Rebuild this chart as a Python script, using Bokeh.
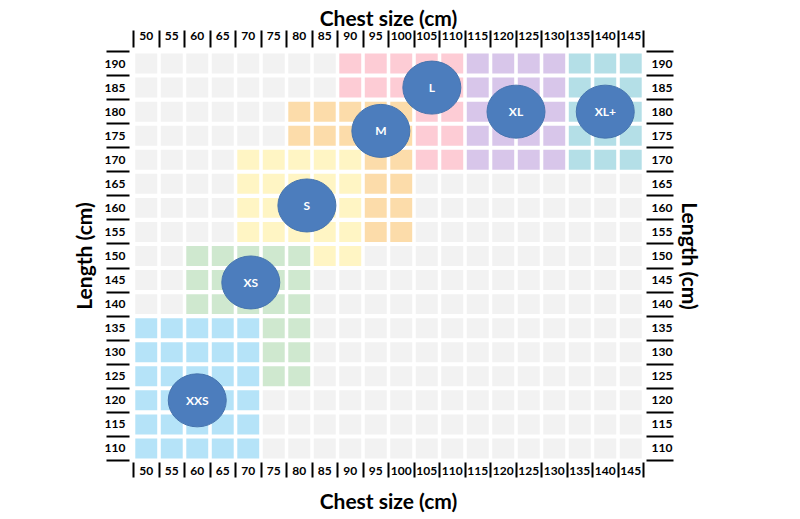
from bokeh.plotting import figure
from bokeh.models import FixedTicker, Range1d, LinearAxis, ColumnDataSource
from bokeh.core.properties import value
from bokeh.embed import file_html
from bokeh.resources import INLINE

# ---- data ----
chest = [50, 55, 60, 65, 70, 75, 80, 85, 90, 95, 100, 105, 110, 115, 120, 125, 130, 135, 140, 145]
length = [190, 185, 180, 175, 170, 165, 160, 155, 150, 145, 140, 135, 130, 125, 120, 115, 110]

# size region of each cell, one string per length row (columns follow `chest`)
size_rows = [
    "........LLLLLXXXXTTT",  # 190
    "........LLLLLXXXXTTT",  # 185
    "......MMMMMLLXXXXTTT",  # 180
    "......MMMMMLLXXXXTTT",  # 175
    "....SSSSSMMLLXXXXTTT",  # 170
    "....SSSSSMM.........",  # 165
    "....SSSSSMM.........",  # 160
    "....SSSSSMM.........",  # 155
    "..GGGGGSS...........",  # 150
    "..GGGGG.............",  # 145
    "..GGGGG.............",  # 140
    "AAAAAGG.............",  # 135
    "AAAAAGG.............",  # 130
    "AAAAAGG.............",  # 125
    "AAAAA...............",  # 120
    "AAAAA...............",  # 115
    "AAAAA...............",  # 110
]
size_codes = [".", "A", "G", "S", "M", "L", "X", "T"]
size_colors = ["#f2f2f2", "#b5e3f8", "#cfe8cf", "#fff5c4", "#fcdcaa", "#fdccd5", "#d8c6ea", "#b4dfe7"]

label_names = ["XXS", "XS", "S", "M", "L", "XL", "XL+"]
label_chest = [60, 70.5, 81.5, 96, 106, 122.5, 140]
label_length = [120, 144.5, 160.5, 176, 185, 180, 180]

# ---- build cells ----
color_of = dict(zip(size_codes, size_colors))
cx, cy, cc = [], [], []
for r, row in enumerate(size_rows):
    for c, code in enumerate(row):
        cx.append(chest[c])
        cy.append(length[r])
        cc.append(color_of[code])
cells = ColumnDataSource(dict(x=cx, y=cy, color=cc))
labels = ColumnDataSource(dict(x=label_chest, y=label_length, name=label_names))

step = 5
x_bounds = [c - step / 2 for c in chest] + [chest[-1] + step / 2]
y_bounds = [l - step / 2 for l in length[::-1]] + [length[0] + step / 2]

p = figure(width=800, height=519, output_backend="svg", toolbar_location=None,
           x_range=Range1d(chest[0] - step / 2, chest[-1] + step / 2),
           y_range=Range1d(length[-1] - step / 2, length[0] + step / 2),
           x_axis_location=None, y_axis_location=None)
p.min_border_left = 133
p.min_border_right = 157
p.min_border_top = 51
p.min_border_bottom = 59
p.outline_line_color = None
p.xgrid.visible = False
p.ygrid.visible = False
p.background_fill_color = "white"
p.border_fill_color = "white"

p.rect("x", "y", width=4.3, height=4.15, source=cells, fill_color="color", line_color=None)
p.ellipse("x", "y", width=58, height=53, width_units="screen", height_units="screen",
          source=labels, fill_color="#4c7dbd", line_color="#4674ae", line_width=1)
p.text("x", "y", text="name", source=labels, text_color="white", text_font=value("Lato"),
       text_font_style="bold", text_font_size="12px", text_align="center", text_baseline="middle")


def make_axis(ticks, minor, title, side, tin, tout, lab_gap, title_gap):
    ax = LinearAxis(ticker=FixedTicker(ticks=ticks, minor_ticks=minor), axis_label=title)
    ax.axis_line_color = None
    ax.major_tick_line_color = None
    ax.major_tick_in = 0
    ax.major_tick_out = tout
    ax.minor_tick_line_color = "black"
    ax.minor_tick_line_width = 2
    ax.minor_tick_in = tin
    ax.minor_tick_out = tout
    ax.major_label_standoff = lab_gap - tout
    ax.axis_label_standoff = title_gap
    ax.major_label_text_font = "Lato"
    ax.major_label_text_font_style = "bold"
    ax.major_label_text_font_size = "12px"
    ax.major_label_text_color = "black"
    ax.axis_label_text_font = "Lato"
    ax.axis_label_text_font_style = "bold"
    ax.axis_label_text_font_size = "21px"
    ax.axis_label_text_color = "black"
    p.add_layout(ax, side)
    return ax


make_axis(chest, x_bounds, "Chest size (cm)", "above", -4, 21, 12, -1)
make_axis(chest, x_bounds, "Chest size (cm)", "below", -2, 17, 6, 10)
make_axis(length, y_bounds, "Length (cm)", "left", -4, 27, 8, 6)
make_axis(length, y_bounds, "Length (cm)", "right", -3, 30, 8, 3)

open("out.html", "w").write(file_html(p, INLINE))
